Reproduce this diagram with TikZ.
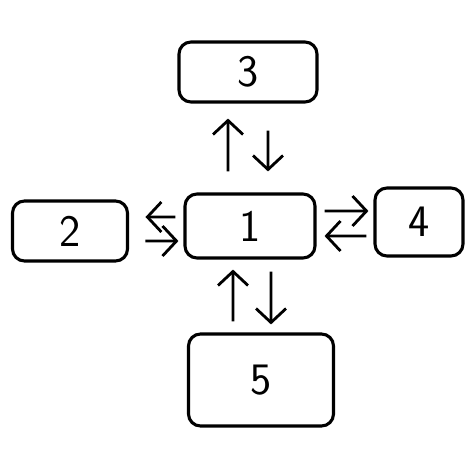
\documentclass[tikz,border=0pt]{standalone}
\usepackage{fontspec}
\usepackage{tikz}
\usetikzlibrary{positioning, shapes, arrows.meta, calc}

\tikzset{
  blob/.style={draw, line width=2.2pt, rounded corners=0.3cm,
               font=\sffamily\fontsize{32}{32}\selectfont},
  link/.style={-{Straight Barb[length=0.35cm, width=0.75cm, line width=2pt]}, line width=2pt}
}

\begin{document}
\begin{tikzpicture}[x=0.025cm, y=-0.025cm]
                  \useasboundingbox (0,0) rectangle (474,474);
                  % Nodes
                  \foreach \n/\x/\y/\w/\h in {1/250/226/3.25/1.6, 2/70/231/2.875/1.5, 3/248/72/3.45/1.5, 4/419/222/2.2/1.7, 5/261/380/3.625/2.3}
                  \node[blob, minimum width=\w cm, minimum height=\h cm] (box\n) at (\x,\y) {\n};

                  % Arrows
                  \draw[link, shorten <=0.525cm, shorten >=0.375cm] ([xshift=-0.55cm]box1.north) -- ([xshift=-0.5cm]box3.south);
                  \draw[link, shorten <=0.675cm, shorten >=0.525cm] ([xshift=0.5cm]box3.south) -- ([xshift=0.45cm]box1.north);
                  \draw[link, shorten <=0.2cm, shorten >=0.41cm] ([yshift=0.225cm]box1.west) -- ([yshift=0.35cm]box2.east);
                  \draw[link, shorten <=0.41cm, shorten >=0.125cm] ([yshift=-0.25cm]box2.east) -- ([yshift=-0.375cm]box1.west);
                  \draw[link, shorten <=0.2cm, shorten >=0.125cm] ([yshift=0.375cm]box1.east) -- ([yshift=0.275cm]box4.west);
                  \draw[link, shorten <=0.175cm, shorten >=0.2cm] ([yshift=-0.35cm]box4.west) -- ([yshift=-0.25cm]box1.east);
                  \draw[link, shorten <=0.275cm, shorten >=0.25cm] ([xshift=-0.7cm]box5.north) -- ([xshift=-0.425cm]box1.south);
                  \draw[link, shorten <=0.3cm, shorten >=0.2cm] ([xshift=0.525cm]box1.south) -- ([xshift=0.25cm]box5.north);
              \end{tikzpicture}
\end{document}
